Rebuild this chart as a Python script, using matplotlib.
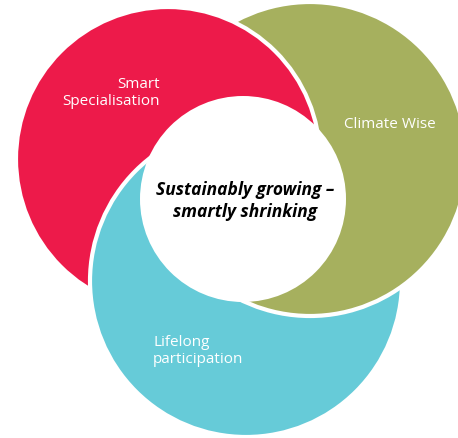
import matplotlib.pyplot as plt
from matplotlib.patches import Circle, Rectangle

# labels of the three rings and the centre message
labels = ["Smart\nSpecialisation", "Climate Wise", "Lifelong\nparticipation"]
colors = ["#ED1A4A", "#A6B05E", "#66CBD8"]
centre_text = "Sustainably growing \u2013\nsmartly shrinking"

# layout (pixel coords, y down)
centres = [(168, 160), (310, 160), (246, 282)]
radii = [152, 157, 156]
hub = (243, 200)
hub_r = 103

fig = plt.figure(figsize=(4.58, 4.39), dpi=100)
ax = fig.add_axes([0, 0, 1, 1])
ax.set_xlim(0, 458)
ax.set_ylim(439, 0)
ax.set_aspect("equal")
ax.axis("off")

red, green, cyan = 0, 1, 2
# red first, cyan over red, green over cyan
for i, z in [(red, 1), (cyan, 2), (green, 3)]:
    ax.add_patch(Circle(centres[i], radii[i], facecolor=colors[i],
                        edgecolor="white", lw=3, zorder=z))

# red over green in the upper half: redraw red clipped to the top
red_top = Circle(centres[red], radii[red], facecolor=colors[red],
                 edgecolor="white", lw=3, zorder=4)
ax.add_patch(red_top)
clip = Rectangle((-10, -10), 480, 165, transform=ax.transData)
red_top.set_clip_path(clip)

ax.add_patch(Circle(hub, hub_r, facecolor="white", edgecolor="none", zorder=5))

font = "Open Sans"
ax.text(160, 93, labels[0], color="white", ha="right", va="center",
        fontsize=11, family=font, linespacing=1.25, zorder=6)
ax.text(344, 125, labels[1], color="white", ha="left", va="center",
        fontsize=11, family=font, zorder=6)
ax.text(153, 351, labels[2], color="white", ha="left", va="center",
        fontsize=11, family=font, linespacing=1.25, zorder=6)
ax.text(245, 201, centre_text, color="black", ha="center", va="center",
        fontsize=12.5, family=font, weight="bold", style="italic",
        linespacing=1.25, zorder=6)

fig.savefig("out.png", dpi=100)
